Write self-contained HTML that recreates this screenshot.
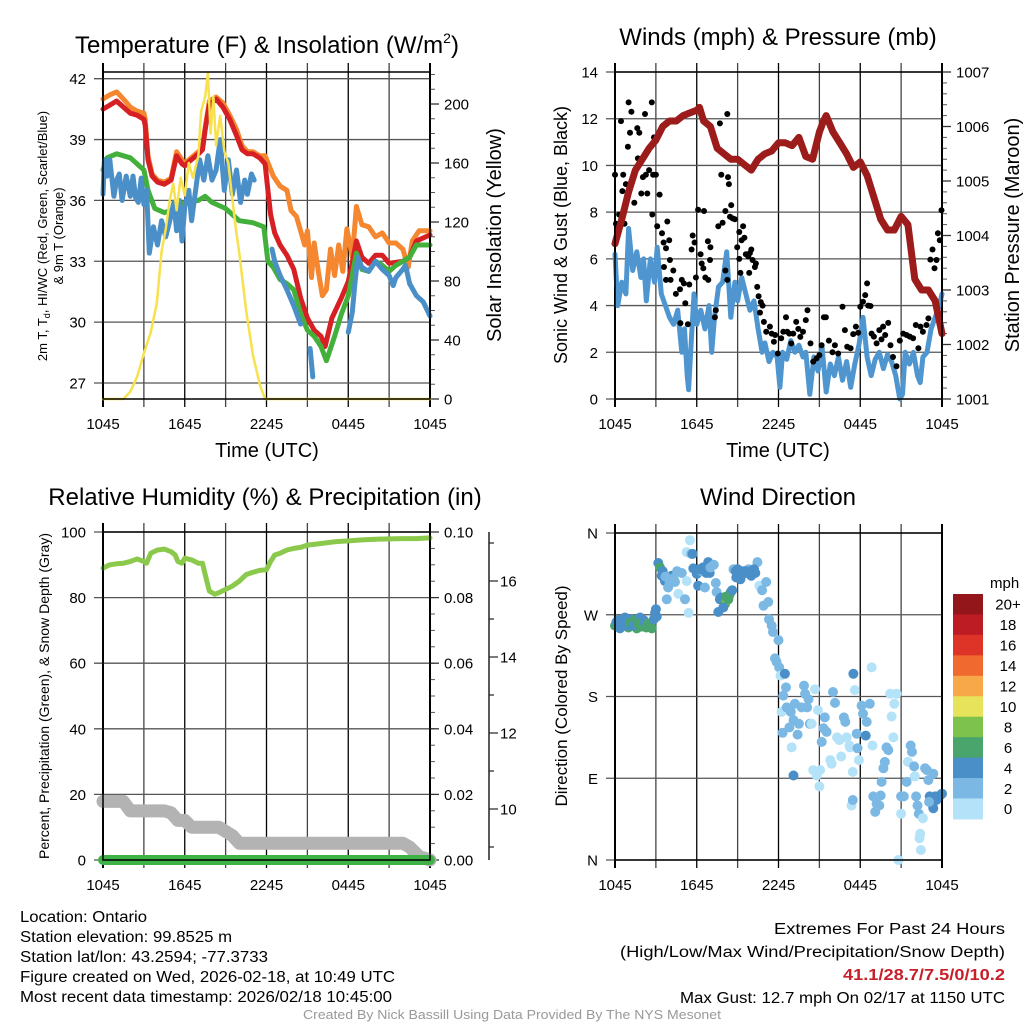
<!DOCTYPE html>
<html><head><meta charset="utf-8"><style>
html,body{margin:0;padding:0;background:#fff;}
svg{display:block;font-family:"Liberation Sans",sans-serif;}
</style></head><body>
<svg id="chart" width="1024" height="1024" viewBox="0 0 1024 1024" xmlns="http://www.w3.org/2000/svg">
<text x="267" y="53" font-size="24" text-anchor="middle">Temperature (F) &amp; Insolation (W/m<tspan font-size="14" dy="-10">2</tspan><tspan dy="10">)</tspan></text>
<text x="778" y="45" font-size="24" text-anchor="middle">Winds (mph) &amp; Pressure (mb)</text>
<text x="265" y="505" font-size="24" text-anchor="middle">Relative Humidity (%) &amp; Precipitation (in)</text>
<text x="778" y="505" font-size="24" text-anchor="middle">Wind Direction</text>

<text x="267" y="457" font-size="20" text-anchor="middle">Time (UTC)</text>
<text x="778" y="457" font-size="20" text-anchor="middle">Time (UTC)</text>

<text transform="translate(47,236) rotate(-90)" font-size="13" text-anchor="middle">2m T, T<tspan font-size="9" dy="3">d</tspan><tspan dy="-3">, HI/WC (Red, Green, Scarlet/Blue)</tspan></text>
<text transform="translate(63,236) rotate(-90)" font-size="13" text-anchor="middle">&amp; 9m T (Orange)</text>
<text transform="translate(501,235) rotate(-90)" font-size="20" text-anchor="middle">Solar Insolation (Yellow)</text>
<text transform="translate(567,235) rotate(-90)" font-size="18" text-anchor="middle">Sonic Wind &amp; Gust (Blue, Black)</text>
<text transform="translate(1019,235) rotate(-90)" font-size="20" text-anchor="middle">Station Pressure (Maroon)</text>
<text transform="translate(49,696) rotate(-90)" font-size="14" text-anchor="middle">Percent, Precipitation (Green), &amp; Snow Depth (Gray)</text>
<text transform="translate(567,696) rotate(-90)" font-size="17" text-anchor="middle">Direction (Colored By Speed)</text>

<g font-size="15.5">
<text x="20" y="922" textLength="127" lengthAdjust="spacingAndGlyphs">Location: Ontario</text>
<text x="20" y="942" textLength="212" lengthAdjust="spacingAndGlyphs">Station elevation: 99.8525 m</text>
<text x="20" y="962" textLength="248" lengthAdjust="spacingAndGlyphs">Station lat/lon: 43.2594; -77.3733</text>
<text x="20" y="982" textLength="375" lengthAdjust="spacingAndGlyphs">Figure created on Wed, 2026-02-18, at 10:49 UTC</text>
<text x="20" y="1002" textLength="372" lengthAdjust="spacingAndGlyphs">Most recent data timestamp: 2026/02/18 10:45:00</text>
<text x="774" y="934" textLength="231" lengthAdjust="spacingAndGlyphs">Extremes For Past 24 Hours</text>
<text x="620" y="957" textLength="385" lengthAdjust="spacingAndGlyphs">(High/Low/Max Wind/Precipitation/Snow Depth)</text>
<text x="843" y="980" fill="#c8202a" font-weight="bold" textLength="162" lengthAdjust="spacingAndGlyphs">41.1/28.7/7.5/0/10.2</text>
<text x="680" y="1003" textLength="325" lengthAdjust="spacingAndGlyphs">Max Gust: 12.7 mph On 02/17 at 1150 UTC</text>
<text x="303" y="1019" font-size="12.5" fill="#999" textLength="418" lengthAdjust="spacingAndGlyphs">Created By Nick Bassill Using Data Provided By The NYS Mesonet</text>
</g>
</svg>
<script>
const xTickHours=[0,6,12,18,24];
const xTickLabels=['1045','1645','2245','0445','1045'];
const tempTicks=[27,30,33,36,39,42];
const solarTicks=[0,40,80,120,160,200];
const windTicks=[0,2,4,6,8,10,12,14];
const presTicks=[1001,1002,1003,1004,1005,1006,1007];
const rhTicks=[0,20,40,60,80,100];
const precipTicks=[0,0.02,0.04,0.06,0.08,0.10];
const snowTicks=[10,12,14,16];
const dirTicks=[0,90,180,270,360];
const dirLabels=['N','E','S','W','N'];
const speedBins=['0','2','4','6','8','10','12','14','16','18','20+'];
const speedColors=['#b4e2f8','#7bb9e4','#4a8fc7','#49a56b','#7cc24c','#e7e35b','#f7a848','#f0692e','#de3428','#be1c25','#93161a'];

const tempOrange=[[0,41.0],[0.5,41.2],[1,41.35],[1.5,41.0],[2,40.6],[2.5,40.4],[3,40.3],[3.1,40.0],[3.3,38.2],[3.6,37.3],[4,37.0],[4.5,36.9],[5,37.1],[5.4,38.4],[5.8,38.0],[6,37.8],[6.3,38.0],[7,38.4],[7.3,38.6],[7.5,39.6],[7.8,40.9],[8.3,41.1],[8.8,40.8],[9.3,40.2],[9.8,39.5],[10.2,38.7],[10.6,38.4],[11,38.4],[11.5,38.2],[11.9,38.2],[12.5,37.2],[13,36.7],[13.5,36.5],[13.8,35.5],[14.2,35.2],[14.5,34.5],[14.8,33.8],[15,34.5],[15.3,32.2],[15.5,33.9],[15.8,32.5],[16.1,31.3],[16.4,31.6],[16.7,33.6],[17,32.3],[17.3,33.8],[17.6,32.5],[17.9,34.6],[18.3,33.2],[18.6,35.7],[19,34.8],[19.5,34.7],[20,34.2],[20.5,34.4],[21,33.9],[21.5,33.9],[22,33.6],[22.4,32.7],[22.7,34.0],[23.2,34.5],[24,34.5]];
const tempRed=[[0,40.5],[0.5,40.7],[1,40.9],[1.5,40.6],[2,40.3],[2.5,40.2],[3,40.0],[3.1,39.7],[3.3,38.0],[3.6,37.2],[4,36.9],[4.5,36.8],[5,37.0],[5.4,38.2],[5.8,37.8],[6,37.7],[6.3,37.9],[7,38.3],[7.3,38.5],[7.5,39.5],[7.8,40.7],[8.3,41.0],[8.8,40.6],[9.3,40.0],[9.8,39.2],[10.2,38.5],[10.6,38.3],[11,38.3],[11.5,38.1],[11.9,37.8],[12.1,36.5],[12.3,35.3],[12.6,34.4],[13,33.8],[13.5,33.3],[14,32.6],[14.5,31.2],[15,30.2],[15.5,29.6],[16,29.3],[16.3,28.8],[16.8,30.2],[17.5,31.2],[18,32.0],[18.4,33.3],[18.6,34.0],[19,33.2],[19.5,32.9],[20,33.3],[20.5,33.3],[21,32.9],[22,33.0],[22.5,33.2],[23,34.0],[24,34.3]];
const tempGreen=[[0,37.5],[0.3,38.1],[1,38.3],[2,38.1],[3,37.5],[3.3,36.5],[3.8,35.6],[4.5,35.4],[5,35.5],[6,35.9],[7,36.0],[7.5,36.2],[8,35.9],[9,35.6],[10,35.0],[11,34.9],[11.8,34.7],[12.1,33.0],[12.5,32.7],[13,32.1],[13.5,31.9],[14,31.6],[14.5,30.4],[15,29.6],[15.5,29.3],[16,28.8],[16.4,28.1],[17,29.3],[17.5,30.4],[18,31.3],[18.6,33.4],[19,32.6],[19.5,32.5],[20,33.0],[20.5,32.8],[21,32.5],[21.5,32.8],[22,33.0],[22.5,33.2],[23,33.8],[24,33.8]];
const tempBlue=[[0,36.3],[0.1,38.0],[0.3,37.2],[0.5,38.0],[0.8,36.2],[1,37.0],[1.2,37.3],[1.4,36.0],[1.7,37.2],[2,36.2],[2.2,37.2],[2.4,36.1],[2.6,35.9],[2.8,37.1],[3,35.8],[3.2,36.5],[3.4,33.4],[3.7,34.7],[4,33.8],[4.3,35.0],[4.6,34.2],[4.9,35.0],[5.2,35.9],[5.4,34.5],[5.6,36.0],[5.8,34.0],[6,35.7],[6.3,36.5],[6.5,35.0],[6.8,36.5],[7.1,38.0],[7.4,37.0],[7.7,38.2],[8,37.0],[8.3,37.5],[8.6,39.0],[8.9,36.5],[9.2,38.0],[9.5,36.3],[9.8,37.5],[10.1,35.9],[10.4,37.0],[10.6,36.3],[10.9,37.3],[11.1,37.0],[11.2,null],[12.4,33.6],[12.6,33.0],[13,32.3],[13.5,31.6],[14,30.8],[14.5,29.9],[14.8,null],[15.2,28.7],[15.4,27.3],[15.5,null],[18.0,29.5],[18.3,30.5],[18.5,32.0],[18.7,33.2],[19,32.7],[19.5,32.5],[20,33.0],[20.5,32.6],[21,32.3],[21.3,31.8],[21.5,32.2],[22,32.6],[22.2,32.8],[22.5,31.9],[23,31.3],[23.5,31.0],[24,30.3]];
const solar=[[0,0],[1.5,0],[2,5],[2.5,15],[3,31],[3.5,45],[3.95,65],[4.3,100],[4.6,115],[4.9,135],[5.15,146],[5.4,128],[5.7,150],[6,138],[6.3,160],[6.6,150],[7,165],[7.2,195],[7.5,205],[7.7,221],[7.9,180],[8.1,205],[8.3,172],[8.6,192],[8.9,168],[9.2,160],[9.5,135],[9.8,112],[10,99],[10.5,60],[11,30],[11.5,10],[11.9,0],[24,0]];

const windSonic=[[0,6.2],[0.2,4.0],[0.5,5.0],[0.8,4.5],[1,7.3],[1.3,5.5],[1.6,6.3],[1.9,5.2],[2.1,6.0],[2.3,4.2],[2.6,6.0],[2.9,5.0],[3.1,6.5],[3.4,4.5],[3.7,4.0],[4,3.5],[4.3,3.2],[4.6,3.8],[4.9,2.0],[5.1,3.0],[5.3,1.0],[5.4,0.4],[5.6,2.5],[5.8,4.5],[6,3.2],[6.3,3.8],[6.6,3.0],[6.9,4.0],[7.1,2.0],[7.3,3.5],[7.6,4.8],[7.9,5.0],[8.2,6.3],[8.5,3.5],[8.8,5.0],[9,4.2],[9.3,5.2],[9.6,4.5],[9.9,3.8],[10.2,4.2],[10.5,3.0],[10.8,2.0],[11,2.4],[11.3,1.6],[11.6,2.0],[11.9,1.8],[12.1,0.5],[12.3,2.0],[12.6,1.7],[12.9,2.5],[13.2,2.0],[13.5,2.3],[13.8,1.8],[14,2.0],[14.3,0.2],[14.6,1.8],[14.9,1.2],[15.2,2.2],[15.5,0.3],[15.8,1.5],[16.1,1.0],[16.4,1.8],[16.7,0.8],[17,1.6],[17.3,0.5],[17.6,1.5],[17.9,2.3],[18.2,3.5],[18.5,1.8],[18.8,1.0],[19.1,1.7],[19.4,2.0],[19.7,1.3],[20,1.9],[20.3,1.6],[20.6,1.0],[20.9,0.0],[21.1,0.2],[21.3,2.0],[21.6,1.5],[21.9,2.0],[22.2,1.0],[22.4,0.7],[22.6,1.8],[22.9,2.0],[23.2,3.0],[23.5,3.5],[23.8,4.0],[24,4.5]];
const windGust=[[0,9.6],[0.44,11.9],[0.54,8.9],[0.6,9.6],[0.07,7.5],[0.3,7.9],[0.7,7.5],[0.8,9.2],[1.0,12.7],[1.1,11.4],[0.95,10.8],[1.2,12.3],[1.42,8.4],[1.64,11.6],[1.78,11.4],[1.68,10.3],[1.93,8.8],[2.2,12.2],[2.05,9.5],[2.27,9.6],[2.37,8.8],[2.5,9.8],[2.7,12.7],[2.8,9.6],[2.86,11.2],[3.0,9.6],[2.74,7.9],[3.27,8.75],[3.1,7.4],[3.45,7.1],[3.84,7.6],[3.57,6.7],[3.74,6.45],[3.98,6.8],[4.03,5.95],[3.6,5.65],[3.74,5.1],[4.08,5.1],[4.28,5.5],[4.47,4.5],[4.77,4.7],[4.9,5.1],[5.06,4.95],[5.16,4.1],[4.8,3.25],[5.35,3.2],[5.45,4.9],[5.7,7.0],[5.62,6.4],[5.84,6.7],[5.94,5.2],[6.1,8.1],[6.53,8.05],[6.28,6.2],[6.36,5.8],[6.48,5.6],[6.63,5.2],[6.82,6.75],[7.0,6.5],[6.97,5.95],[6.85,5.1],[7.33,3.5],[7.4,3.8],[7.58,7.4],[7.7,11.8],[7.8,9.6],[7.9,7.55],[8.1,8.05],[8.24,12.2],[8.29,9.5],[8.36,9.2],[8.44,7.8],[8.53,8.3],[8.63,7.73],[8.1,5.5],[8.24,5.1],[8.8,7.7],[8.97,6.5],[9.12,7.15],[9.29,6.8],[9.4,7.4],[9.5,6.9],[9.12,6.0],[9.2,5.4],[9.6,6.2],[9.78,6.1],[9.9,6.25],[10.0,6.4],[10.1,5.95],[10.27,5.65],[9.85,5.4],[10.34,5.8],[10.44,4.8],[10.54,4.4],[10.7,4.15],[10.83,4.0],[10.64,3.7],[10.93,3.3],[11.1,2.88],[11.37,3.1],[11.5,2.8],[11.66,2.45],[11.76,2.74],[11.95,1.95],[12.2,2.6],[12.35,2.88],[12.55,3.5],[12.64,2.88],[12.8,2.8],[12.93,2.38],[13.08,2.8],[13.3,3.3],[13.45,3.0],[13.6,2.66],[13.8,2.88],[14.0,3.38],[14.13,3.8],[14.35,2.38],[14.55,1.6],[14.8,1.74],[15.0,1.88],[15.16,2.3],[15.33,3.5],[15.48,3.5],[15.7,2.5],[15.96,2.0],[16.14,2.3],[16.38,1.95],[16.7,3.95],[16.87,2.95],[17.04,2.24],[17.29,2.17],[17.48,2.78],[17.68,3.1],[17.85,2.84],[18.0,3.95],[18.2,4.16],[18.36,4.45],[18.5,4.95],[18.58,4.0],[18.75,3.98],[18.83,2.8],[19.0,2.67],[19.2,2.38],[19.4,2.95],[19.56,2.55],[19.68,3.1],[19.83,2.74],[20.05,3.26],[20.22,2.3],[20.4,1.8],[20.66,1.4],[20.9,2.5],[21.15,2.8],[21.4,2.74],[21.64,2.67],[21.88,2.6],[22.08,3.17],[22.27,2.17],[22.42,3.1],[22.6,2.88],[22.86,3.17],[23.0,3.45],[23.15,5.97],[23.3,6.4],[23.45,5.6],[23.6,5.95],[23.7,7.1],[23.84,6.8],[23.96,8.08]];
const pressure=[[0,1003.85],[0.5,1004.3],[1,1004.8],[1.5,1005.2],[2,1005.4],[2.5,1005.6],[3,1005.75],[3.5,1006.0],[4,1006.1],[4.5,1006.1],[5,1006.2],[5.5,1006.25],[6,1006.3],[6.2,1006.35],[6.5,1006.1],[7,1006.0],[7.5,1005.6],[8,1005.5],[8.5,1005.4],[9,1005.4],[9.5,1005.3],[10,1005.2],[10.5,1005.4],[11,1005.5],[11.5,1005.55],[12,1005.7],[12.5,1005.7],[13,1005.65],[13.5,1005.8],[14,1005.45],[14.5,1005.4],[15,1005.9],[15.3,1006.1],[15.5,1006.2],[16,1005.9],[16.5,1005.7],[17,1005.5],[17.5,1005.25],[18,1005.35],[18.5,1005.1],[19,1004.7],[19.5,1004.3],[20,1004.1],[20.5,1004.1],[21,1004.35],[21.5,1004.2],[22,1003.2],[22.5,1003.0],[23,1003.0],[23.5,1002.8],[24,1002.2]];

const rhSeries=[[0,89],[0.5,90],[1,90.3],[1.5,90.5],[2,91],[2.5,91.8],[3,91],[3.2,90.5],[3.5,93.5],[4,94.5],[4.5,94.8],[5,94],[5.3,93],[5.5,91],[5.8,90.5],[6,92],[6.5,91.5],[7,90.5],[7.3,90.5],[7.5,87],[7.8,82],[8.2,81],[8.5,81.5],[9,82.5],[9.5,83.5],[10,85],[10.5,87],[11,87.7],[11.5,88.3],[12,88.5],[12.3,91],[12.6,93],[13,93.5],[13.5,94.5],[14,95],[14.5,95.3],[15,96],[16,96.5],[17,97],[18,97.3],[19,97.6],[20,97.8],[21,97.9],[22,98],[23,98],[24,98.2]];
const precipSeries=[[0,0],[24,0]];
const snowSeries=[[0,10.2],[1.5,10.2],[2,9.95],[4.5,9.95],[5,9.9],[5.5,9.7],[6,9.7],[6.5,9.52],[8.5,9.52],[9.5,9.3],[10,9.1],[22,9.1],[22.5,9.0],[23.2,8.75],[24,8.66]];

const dirPoints=[[0,258,6],[0.24,264,4],[0.37,255,4],[0.73,267,4],[0.98,256,7],[1.2,265,4],[1.47,264,6],[1.6,255,6],[1.84,267,4],[2.1,264,4],[2.3,256,6],[2.57,258,6],[2.7,255,6],[2.94,272,4],[3.06,268,4],[0.1,262,4],[0.5,260,4],[0.6,265,4],[0.85,258,4],[1.1,261,6],[1.35,258,4],[1.7,260,6],[1.95,257,6],[2.2,262,4],[2.45,260,6],[2.85,265,4],[3.0,276,4],[3.18,327,4],[3.3,322,6],[3.43,313,4],[3.67,307,4],[3.8,287,2],[3.9,300,2],[4.16,313,4],[4.4,306,2],[4.65,293,0],[4.9,316,2],[5.14,287,2],[5.26,307,0],[5.4,272,0],[5.26,339,0],[5.5,352,0],[5.6,337,2],[5.7,337,4],[5.75,321,4],[6.0,315,4],[6.1,302,4],[6.34,318,2],[6.6,300,2],[6.84,328,4],[6.95,316,4],[3.5,318,4],[3.7,312,2],[4.0,304,2],[4.3,310,2],[4.55,318,2],[6.2,320,4],[6.45,322,4],[6.7,316,4],[7.0,322,2],[7.25,325,2],[7.4,305,2],[7.46,295,2],[7.58,273,4],[7.7,287,4],[7.8,289,4],[8.07,282,6],[8.2,286,8],[8.32,287,6],[8.5,295,4],[8.15,290,6],[8.4,292,6],[7.95,278,4],[8.6,297,4],[8.7,320,2],[8.9,311,4],[9.07,316,4],[9.2,309,4],[9.4,315,4],[9.8,320,2],[10.0,313,4],[10.3,316,4],[10.45,328,2],[8.85,318,4],[9.0,320,4],[9.3,318,4],[9.55,318,4],[9.7,316,4],[9.95,318,4],[10.2,320,4],[10.6,302,0],[10.8,297,2],[10.9,280,2],[11.1,306,2],[11.25,284,2],[11.3,265,2],[11.5,258,2],[11.6,251,2],[12.0,242,2],[11.74,222,2],[11.86,218,2],[12.05,212,2],[12.15,203,0],[12.47,205,4],[12.55,190,2],[12.35,181,2],[12.23,163,0],[12.3,140,2],[12.6,168,2],[12.8,146,2],[12.9,163,2],[12.97,124,0],[13.1,154,2],[13.1,93,4],[13.2,172,2],[13.4,138,2],[13.5,150,2],[13.7,168,2],[13.87,192,2],[13.95,183,2],[14.1,168,2],[14.2,177,2],[14.3,150,2],[14.43,150,0],[14.55,99,0],[14.68,188,0],[14.8,93,0],[14.9,165,0],[15.0,81,0],[15.05,99,0],[15.17,130,2],[15.3,145,2],[15.4,157,2],[15.53,141,2],[15.8,110,0],[15.9,106,0],[16.0,185,2],[16.15,173,2],[16.3,135,0],[16.47,132,0],[16.6,114,0],[16.8,157,2],[16.9,152,2],[17.0,135,0],[17.2,126,0],[17.25,124,0],[17.45,97,0],[17.36,60,0],[17.45,66,2],[17.5,205,4],[17.6,187,0],[17.74,139,2],[17.8,123,2],[17.9,110,0],[18.1,170,2],[18.2,161,2],[18.4,137,4],[18.47,152,2],[18.7,172,2],[18.84,212,0],[18.9,126,0],[18.96,70,2],[19.1,53,2],[19.2,62,2],[19.4,60,2],[19.5,71,2],[19.57,86,2],[19.7,101,2],[19.8,108,2],[19.93,124,2],[20.06,121,2],[20.2,183,0],[20.43,135,0],[20.3,158,0],[20.5,172,0],[20.67,183,0],[20.8,0,0],[21.0,51,0],[21.0,70,2],[21.2,70,2],[21.4,86,2],[21.5,108,0],[21.7,126,2],[21.8,119,2],[21.95,103,2],[22.0,92,0],[22.1,70,2],[22.2,60,2],[22.3,51,2],[22.4,29,0],[22.35,24,0],[22.45,11,0],[22.6,46,0],[22.76,101,2],[22.9,99,2],[23.0,88,2],[23.1,70,4],[23.25,62,4],[23.36,57,4],[23.5,70,4],[23.6,66,4],[23.7,70,4],[23.86,71,4],[24.0,73,4],[23.05,64,2],[23.36,95,2]];

const NS='http://www.w3.org/2000/svg';
const svg=document.getElementById('chart');
function mk(tag,attrs,parent){const e=document.createElementNS(NS,tag);for(const k in attrs)e.setAttribute(k,attrs[k]);(parent||svg).appendChild(e);return e;}
function lin(d0,d1,r0,r1){return v=>r0+(v-d0)*(r1-r0)/(d1-d0);}

const P1={x0:103,x1:430,y0:72,y1:399};
const P2={x0:615,x1:942,y0:72,y1:399};
const P3={x0:103,x1:430,y0:532,y1:860};
const P4={x0:615,x1:942,y0:533,y1:860};

function pathFrom(pts,xs,ys){let d='';let pen=false;for(const p of pts){if(p[1]===null){pen=false;continue;}d+=(pen?'L':'M')+xs(p[0]).toFixed(1)+' '+ys(p[1]).toFixed(1);pen=true;}return d;}

function frame(P,name){
  const g=mk('g',{});
  
  
  const xs=lin(0,24,P.x0,P.x1);
  for(let h=0;h<=24;h+=3){
    const x=xs(h);
    const l=mk('line',{x1:x,x2:x,y1:P.y0-9,y2:P.y1+8,stroke:(h%6===0)?'#000':'#444','stroke-width':(h===0||h===24)?2:1.3},g);
    
    
  }
  xTickHours.forEach((h,i)=>{
    const t=mk('text',{x:xs(h),y:P.y1+30,'font-size':15,'text-anchor':'middle'},g);
    t.textContent=xTickLabels[i];
    
    
  });
  return xs;
}
function hgrid(P,vals,ys,name,labels,lx){
  vals.forEach((v,i)=>{
    const y=ys(v);
    const l=mk('line',{x1:P.x0-9,x2:P.x1,y1:y,y2:y,stroke:'#555','stroke-width':1.3});
    
    
    const t=mk('text',{x:lx,y:y+5.5,'font-size':15,'text-anchor':'end'});
    t.textContent=labels?labels[i]:String(v);
    
    
  });
}
function rightAxis(P,vals,ys,name,fmt,minorStep,d0,d1){
  for(let v=d0;v<=d1+1e-9;v+=minorStep){
    const y=ys(v);
    const l=mk('line',{x1:P.x1,x2:P.x1+5,y1:y,y2:y,stroke:'#555','stroke-width':1});
    
    
  }
  vals.forEach(v=>{
    const y=ys(v);
    const l=mk('line',{x1:P.x1,x2:P.x1+9,y1:y,y2:y,stroke:'#333','stroke-width':1.3});
    
    
    const t=mk('text',{x:P.x1+14,y:y+5.5,'font-size':15});
    t.textContent=fmt(v);
    
    
  });
}
function box(P,name){
  const r=mk('rect',{x:P.x0,y:P.y0,width:P.x1-P.x0,height:P.y1-P.y0,fill:'none',stroke:'#000','stroke-width':1.5});
  
  
}
function line(pts,xs,ys,color,w,name){
  const p=mk('path',{d:pathFrom(pts,xs,ys),fill:'none',stroke:color,'stroke-width':w,'stroke-linejoin':'round','stroke-linecap':'round'});
  
  
}

// Panel 1
let xs1=frame(P1,'temp');
const yT=lin(26.21,42.33,P1.y1,P1.y0);
const yS=lin(0,221.7,P1.y1,P1.y0);
hgrid(P1,tempTicks,yT,'temp',null,86);
rightAxis(P1,solarTicks,yS,'solar',v=>String(v),10,0,220);
line(tempOrange,xs1,yT,'#f4872f',5,'series-9m-temp-orange');
line(tempRed,xs1,yT,'#d62024',5,'series-2m-temp-red');
line(tempGreen,xs1,yT,'#44b03c',5,'series-dewpoint-green');
line(tempBlue,xs1,yT,'#4a8fc8',5,'series-windchill-blue');
line(solar,xs1,yS,'#f7e14f',2.5,'series-solar-yellow');
box(P1,'temp');

// Panel 2
let xs2=frame(P2,'wind');
const yW=lin(0,14,P2.y1,P2.y0);
const yP=lin(1001,1007,P2.y1,P2.y0);
hgrid(P2,windTicks,yW,'wind',null,598);
rightAxis(P2,presTicks,yP,'pressure',v=>String(v),0.2,1001,1007);
line(windSonic,xs2,yW,'#4f96d0',5,'series-sonic-wind-blue');
windGust.forEach(p=>{
  const c=mk('circle',{cx:xs2(p[0]).toFixed(1),cy:yW(p[1]).toFixed(1),r:3,fill:'#000'});
  
  
});
line(pressure,xs2,yP,'#9c1b1b',7,'series-pressure-maroon');
box(P2,'wind');

// Panel 3
let xs3=frame(P3,'rh');
const yR=lin(0,100,P3.y1,P3.y0);
const yPr=lin(0,0.1,P3.y1,P3.y0);
const ySn=lin(10,16,809,581);
hgrid(P3,rhTicks,yR,'rh',null,86);
rightAxis(P3,precipTicks,yPr,'precip',v=>v.toFixed(2),0.005,0,0.1);
const sax=mk('line',{x1:489,x2:489,y1:532,y2:860,stroke:'#222','stroke-width':1.5});


for(let v=9;v<=17;v+=1){
  const y=ySn(v);
  const l=mk('line',{x1:489,x2:(v%2===0)?498:494,y1:y,y2:y,stroke:'#222','stroke-width':1.2});
  
  
}
snowTicks.forEach(v=>{
  const t=mk('text',{x:500,y:ySn(v)+5.5,'font-size':15});
  t.textContent=String(v);
  
  
});
line(snowSeries,xs3,ySn,'#b3b3b3',13,'series-snow-depth-gray');
line(precipSeries,xs3,yPr,'#3fb247',10,'series-precip-green');
line(rhSeries,xs3,yR,'#8bc94c',5,'series-rh-green');
box(P3,'rh');

// Panel 4
let xs4=frame(P4,'dir');
const yD=lin(0,360,P4.y1,P4.y0);
hgrid(P4,dirTicks,yD,'dir',dirLabels,598);
dirPoints.forEach(p=>{
  const bin=Math.min(10,Math.max(0,Math.floor(p[2]/2)));
  const c=mk('circle',{cx:xs4(p[0]).toFixed(1),cy:yD(p[1]).toFixed(1),r:5,fill:speedColors[bin]});
  
  
});
box(P4,'dir');

// Colorbar
const cbTop=594,cbH=20.45;
const mph=mk('text',{x:990,y:588,'font-size':15});
mph.textContent='mph';


speedBins.forEach((lab,i)=>{
  const k=10-i;
  const r=mk('rect',{x:953,y:cbTop+i*cbH,width:30,height:cbH+0.5,fill:speedColors[k]});
  
  
  const t=mk('text',{x:1008,y:cbTop+i*cbH+cbH/2+5.5,'font-size':15,'text-anchor':'middle'});
  t.textContent=speedBins[k];
  
  
});
</script>
</body></html>
